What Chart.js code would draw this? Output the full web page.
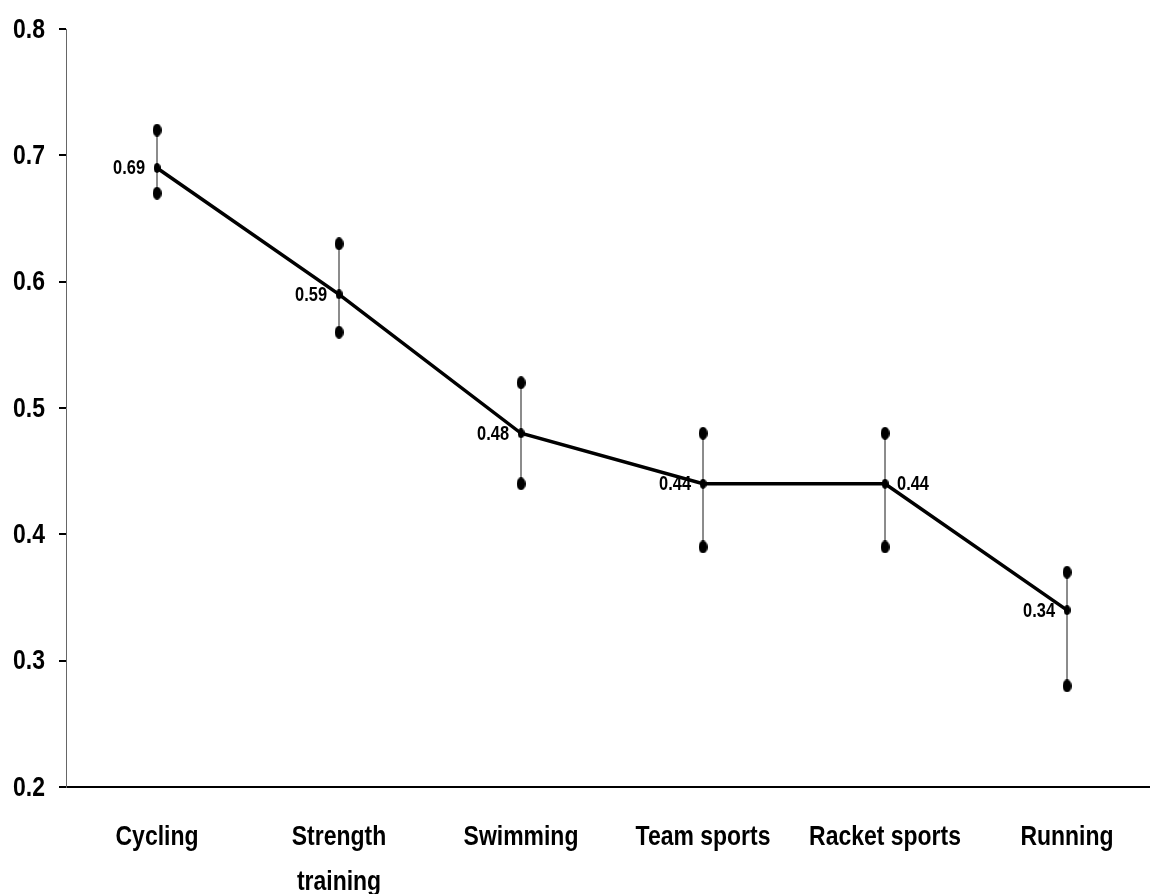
<!DOCTYPE html>
<html>
<head>
<meta charset="utf-8">
<script src="https://cdn.jsdelivr.net/npm/chart.js@4.4.1/dist/chart.umd.min.js"></script>
<style>
  html, body { margin: 0; padding: 0; background: #fff; }
  #wrap { width: 1150px; height: 894px; }
</style>
</head>
<body>
<div id="wrap"><canvas id="chart"></canvas></div>
<script>
const categories = ['Cycling', ['Strength', 'training'], 'Swimming', 'Team sports', 'Racket sports', 'Running'];
const means = [0.69, 0.59, 0.48, 0.44, 0.44, 0.34];
const upper = [0.72, 0.63, 0.52, 0.48, 0.48, 0.37];
const lower = [0.67, 0.56, 0.44, 0.39, 0.39, 0.28];
const labelSide = ['left', 'left', 'left', 'left', 'right', 'left'];
const yTicks = [0.2, 0.3, 0.4, 0.5, 0.6, 0.7, 0.8];

// no Arial Narrow here, so squeeze Liberation Sans Bold sideways
const FONT = "'Liberation Sans', Arial, sans-serif";
const SQUEEZE = 0.82;

function narrowText(ctx, text, x, y, size, align) {
  ctx.save();
  ctx.font = 'bold ' + size + 'px ' + FONT;
  ctx.textAlign = align;
  ctx.translate(x, y);
  ctx.scale(SQUEEZE, 1);
  ctx.fillText(text, 0, 0);
  ctx.restore();
}

// little black ovals used as error bar caps and mean markers
function oval(w, h) {
  const c = document.createElement('canvas');
  c.width = w; c.height = h;
  const g = c.getContext('2d');
  g.fillStyle = '#000';
  g.beginPath();
  g.ellipse(w / 2, h / 2, w / 2, h / 2, 0, 0, Math.PI * 2);
  g.fill();
  return c;
}
const capImg = oval(9, 13);
const meanImg = oval(7, 10);

const toPoints = arr => arr.map((v, i) => ({ x: i, y: v }));

// vertical whiskers behind the markers
const whiskers = {
  id: 'whiskers',
  beforeDatasetsDraw(chart) {
    const { ctx, scales: { x, y } } = chart;
    ctx.save();
    ctx.strokeStyle = '#666';
    ctx.lineWidth = 1.5;
    means.forEach((m, i) => {
      const px = x.getPixelForValue(i);
      ctx.beginPath();
      ctx.moveTo(px, y.getPixelForValue(upper[i]));
      ctx.lineTo(px, y.getPixelForValue(lower[i]));
      ctx.stroke();
    });
    ctx.restore();
  }
};

// axis tick labels and value labels
const textLayer = {
  id: 'textLayer',
  afterDraw(chart) {
    const { ctx, scales: { x, y } } = chart;
    ctx.save();
    ctx.fillStyle = '#000';

    ctx.textBaseline = 'middle';
    yTicks.forEach(v => {
      narrowText(ctx, v.toFixed(1), 45, y.getPixelForValue(v) + 1, 28, 'right');
    });

    ctx.textBaseline = 'alphabetic';
    categories.forEach((c, i) => {
      const lines = Array.isArray(c) ? c : [c];
      lines.forEach((ln, k) => {
        narrowText(ctx, ln, x.getPixelForValue(i), 845 + k * 45, 28, 'center');
      });
    });

    ctx.textBaseline = 'middle';
    means.forEach((m, i) => {
      const px = x.getPixelForValue(i);
      const py = y.getPixelForValue(m) + 1;
      if (labelSide[i] === 'right') {
        narrowText(ctx, m.toFixed(2), px + 12, py, 20, 'left');
      } else {
        narrowText(ctx, m.toFixed(2), px - 12, py, 20, 'right');
      }
    });
    ctx.restore();
  }
};

new Chart(document.getElementById('chart'), {
  type: 'line',
  data: {
    datasets: [
      {
        data: toPoints(means),
        borderColor: '#000',
        borderWidth: 3.5,
        pointStyle: meanImg,
        pointRadius: 5,
        tension: 0
      },
      {
        type: 'scatter',
        data: toPoints(upper),
        pointStyle: capImg,
        pointRadius: 6
      },
      {
        type: 'scatter',
        data: toPoints(lower),
        pointStyle: capImg,
        pointRadius: 6
      }
    ]
  },
  options: {
    responsive: true,
    maintainAspectRatio: false,
    animation: false,
    layout: { autoPadding: false, padding: { top: 29, left: 0, right: 0, bottom: 0 } },
    plugins: { legend: { display: false }, tooltip: { enabled: false } },
    scales: {
      x: {
        type: 'linear',
        min: -0.5,
        max: 5.456,
        afterBuildTicks: s => { s.ticks = categories.map((c, i) => ({ value: i })); },
        afterFit: s => { s.height = 107; },
        grid: { display: true, drawOnChartArea: false, drawTicks: false },
        border: { display: true, color: '#000', width: 2 },
        ticks: { display: false }
      },
      y: {
        min: 0.2,
        max: 0.8,
        afterBuildTicks: s => { s.ticks = yTicks.map(v => ({ value: v })); },
        afterFit: s => { s.width = 66; },
        grid: { drawOnChartArea: false, tickLength: 7, color: '#000', lineWidth: 2 },
        border: { display: true, color: '#666', width: 1 },
        ticks: { display: false }
      }
    }
  },
  plugins: [whiskers, textLayer]
});
</script>
</body>
</html>
